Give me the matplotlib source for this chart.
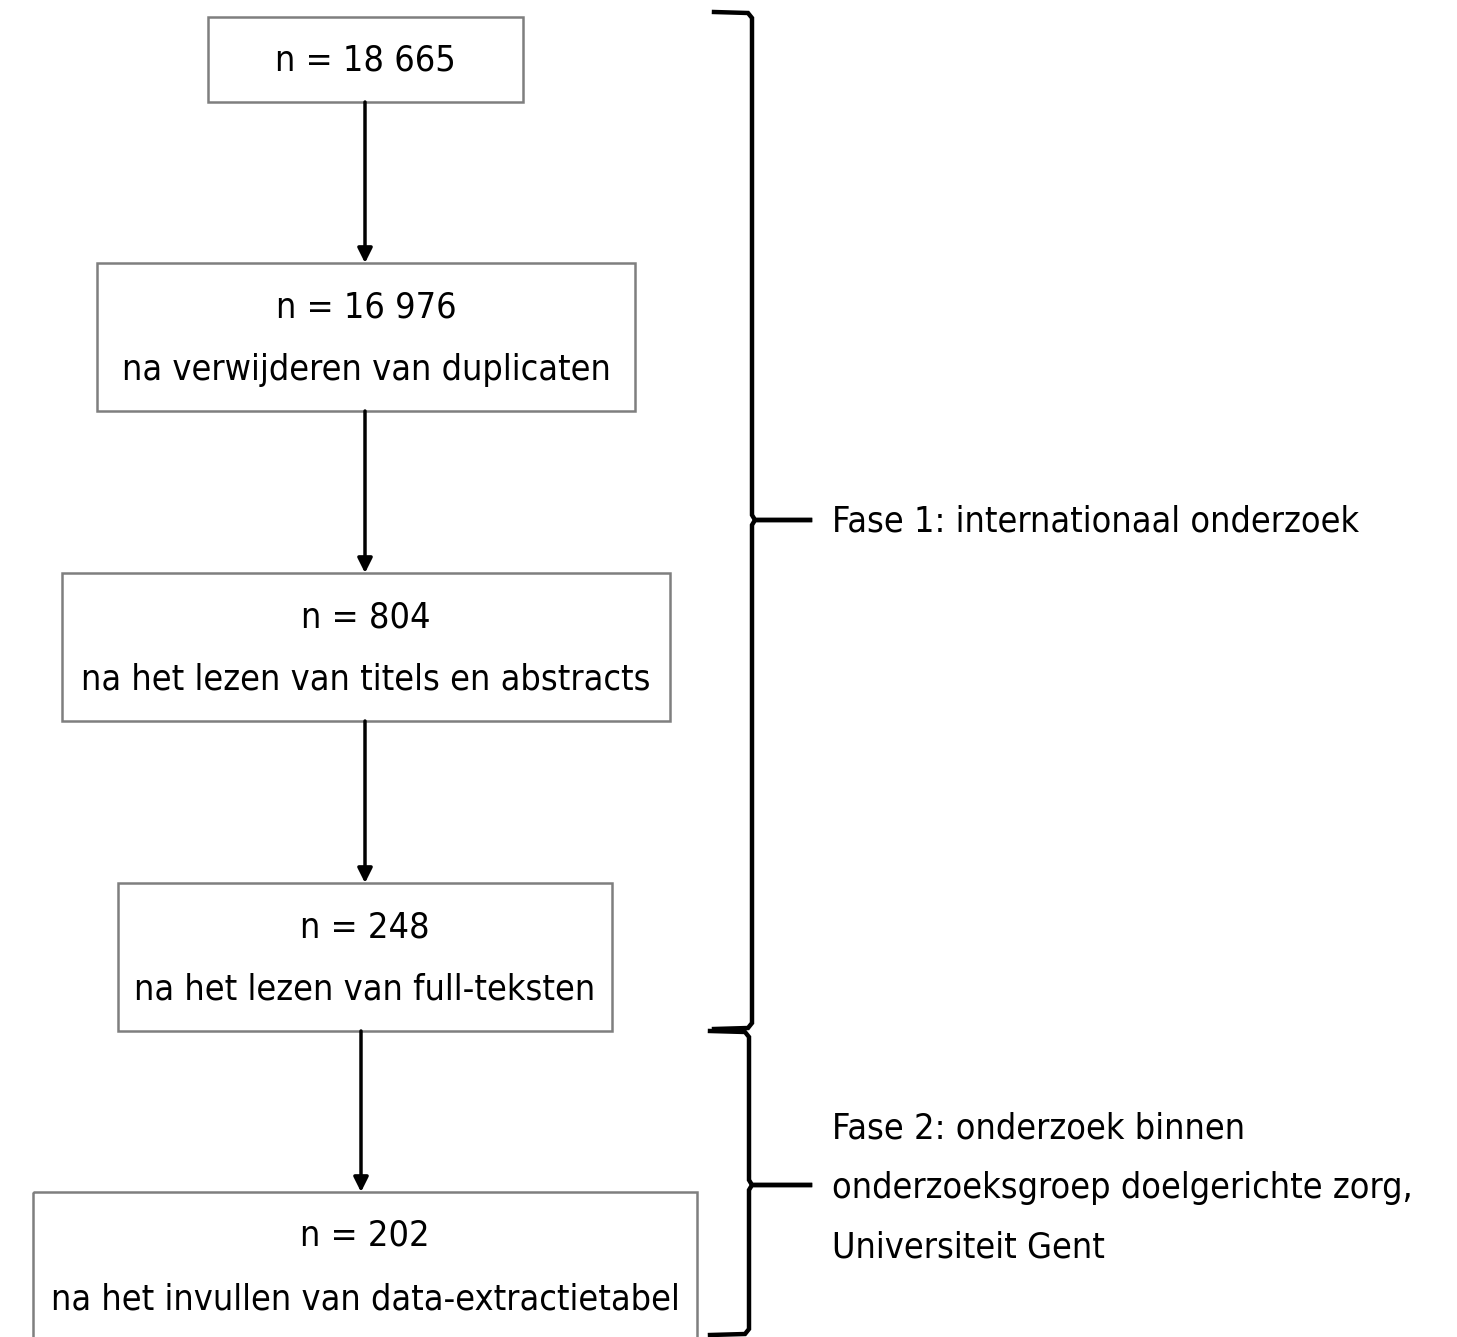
import matplotlib
matplotlib.use("Agg")
import matplotlib.pyplot as plt
from matplotlib.patches import Rectangle
from matplotlib import font_manager as fm

counts = ["n = 18 665", "n = 16 976", "n = 804", "n = 248", "n = 202"]
steps = ["", "na verwijderen van duplicaten", "na het lezen van titels en abstracts",
         "na het lezen van full-teksten", "na het invullen van data-extractietabel"]
phases = ["Fase 1: internationaal onderzoek",
          "Fase 2: onderzoek binnen\nonderzoeksgroep doelgerichte zorg,\nUniversiteit Gent"]

# layout (pixel coordinates)
boxes = [(208, 17, 523, 102), (97, 263, 635, 411), (62, 573, 670, 721),
         (118, 883, 612, 1031), (33, 1192, 697, 1350)]
arrow_x = [365, 365, 365, 361]

# pick a narrow font if one exists
fam = None
stretch = 'normal'
for cand, st in [('DejaVu Sans Condensed', 'normal'), ('DejaVu Sans', 'condensed'),
                 ('Liberation Sans Narrow', 'normal'), ('Roboto Condensed', 'normal'),
                 ('Noto Sans', 'condensed'), ('Open Sans', 'condensed')]:
    try:
        f = fm.findfont(fm.FontProperties(family=cand, stretch=st), fallback_to_default=False)
        if 'ondensed' in f or 'arrow' in f or 'Cond' in f:
            fam, stretch = cand, st
            break
    except Exception:
        pass
if fam is None:
    fam, stretch = 'Lato', 'normal'
family = [fam, 'DejaVu Sans']

W, H = 1457, 1337
fig = plt.figure(figsize=(W / 100, H / 100), dpi=100)
ax = fig.add_axes([0, 0, 1, 1])
ax.set_xlim(0, W)
ax.set_ylim(H, 0)
ax.axis('off')

# fit font size so the reference line width (~489 px) is matched
renderer = fig.canvas.get_renderer()
probe = ax.text(0, 0, steps[1], fontsize=30, family=family, fontstretch=stretch)
wpx = probe.get_window_extent(renderer).width
probe.remove()
fs = min(34, 30 * 489 / wpx)

for i, (x0, y0, x1, y1) in enumerate(boxes):
    ax.add_patch(Rectangle((x0, y0), x1 - x0, y1 - y0, fill=False,
                           edgecolor='#7f7f7f', lw=1.8))
    cx = (x0 + x1) / 2
    kw = dict(ha='center', va='center', fontsize=fs, family=family, fontstretch=stretch)
    if steps[i]:
        ax.text(cx, y0 + 44, counts[i], **kw)
        ax.text(cx, y0 + 107, steps[i], **kw)
    else:
        ax.text(cx, (y0 + y1) / 2 + 1, counts[i], **kw)

for i in range(4):
    ya = boxes[i][3]
    yb = boxes[i + 1][1]
    ax.annotate('', xy=(arrow_x[i], yb), xytext=(arrow_x[i], ya),
                arrowprops=dict(arrowstyle='-|>', color='black', lw=2.5,
                                mutation_scale=22, shrinkA=0, shrinkB=0))

def brace(x, ytop, ymid, ybot, xhook, xtip):
    ax.plot([xhook, x - 4, x, x, x + 3, xtip], [ytop, ytop + 1, ytop + 6, ymid - 5, ymid, ymid],
            color='black', lw=3.2, solid_joinstyle='miter')
    ax.plot([xtip, x + 3, x, x, x - 4, xhook], [ymid, ymid, ymid + 5, ybot - 6, ybot - 1, ybot],
            color='black', lw=3.2, solid_joinstyle='miter')

brace(752, 12, 520, 1029, 714, 810)
brace(749, 1031, 1185, 1335, 710, 810)

kw = dict(ha='left', va='center', fontsize=fs, family=family, fontstretch=stretch)
ax.text(832, 522, phases[0], **kw)
ax.text(832, 1188, phases[1], linespacing=1.95, **kw)

fig.savefig('out.png', dpi=100)
